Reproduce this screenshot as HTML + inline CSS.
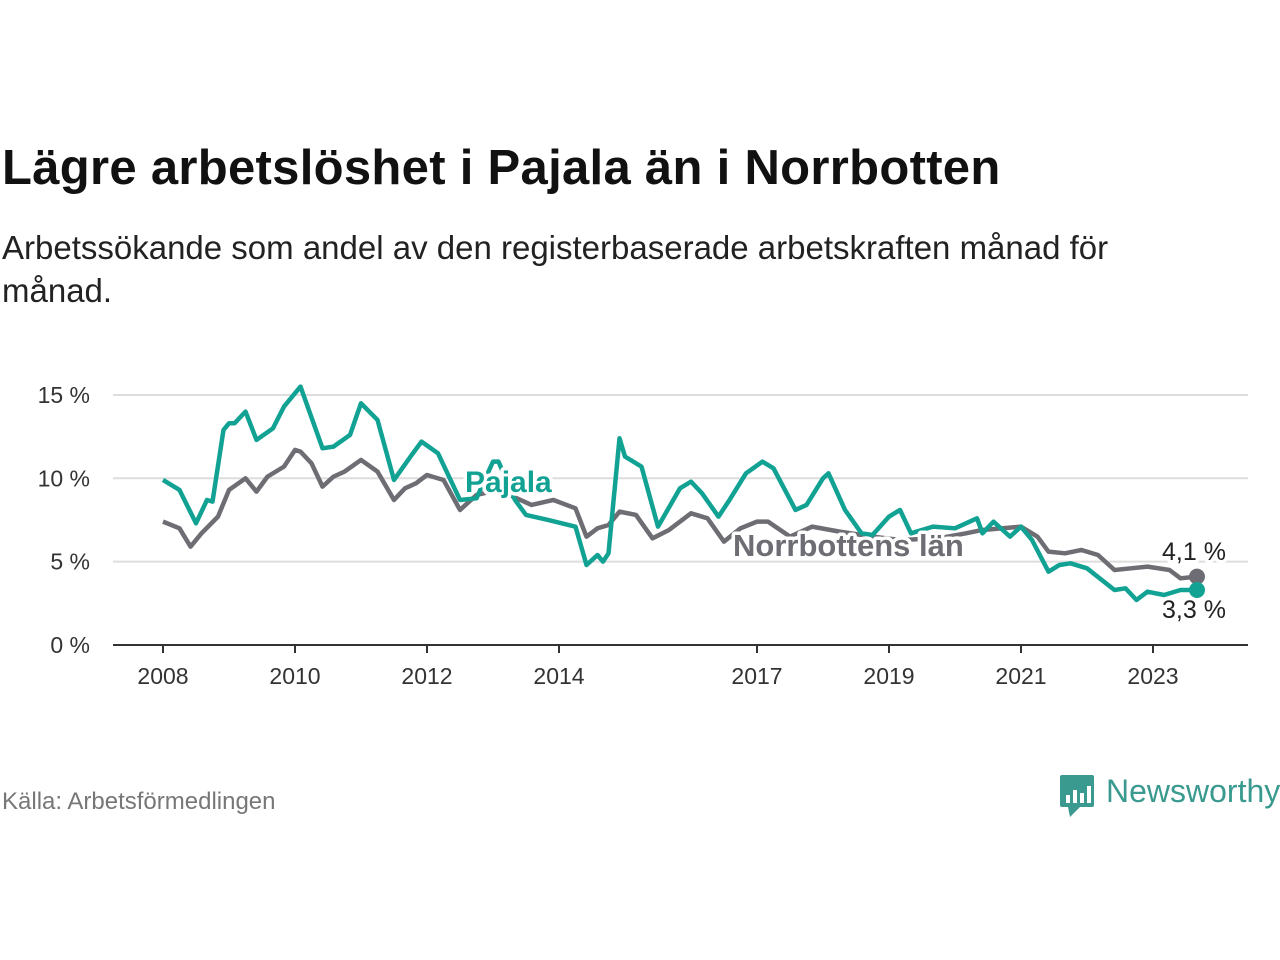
<!DOCTYPE html>
<html><head><meta charset="utf-8"><style>
body{margin:0;width:1280px;height:960px;background:#fff;font-family:"Liberation Sans",sans-serif;overflow:hidden;position:relative}
.t{position:absolute;left:2px;top:140px;font-size:49px;font-weight:bold;color:#111;letter-spacing:0.3px;white-space:nowrap}
.s{position:absolute;left:2px;top:226px;font-size:33px;line-height:43px;color:#222;width:1200px}
.src{position:absolute;left:2px;top:788px;font-size:24px;color:#777}
</style></head><body>
<div class="t">Lägre arbetslöshet i Pajala än i Norrbotten</div>
<div class="s">Arbetssökande som andel av den registerbaserade arbetskraften månad för månad.</div>
<div class="src">Källa: Arbetsförmedlingen</div>
<svg width="1280" height="960" style="position:absolute;left:0;top:0" id="c">
<g>
<rect x="1060" y="775" width="34" height="32" rx="2" fill="#3a9a8f"/>
<polygon points="1068,807 1080,807 1070,817" fill="#3a9a8f"/>
<rect x="1066" y="795" width="4" height="8" fill="#fff"/><rect x="1073" y="790" width="4" height="13" fill="#fff"/><rect x="1080" y="793" width="4" height="10" fill="#fff"/><rect x="1087" y="786" width="4" height="17" fill="#fff"/>
<text x="1106" y="802" font-size="32" fill="#3a9a8f" font-family="Liberation Sans, sans-serif">Newsworthy</text>
</g>
</svg>
<script>
const yTicks=[0,5,10,15];
const yTickLabels=["0 %","5 %","10 %","15 %"];
const xTickYears=[2008,2010,2012,2014,2017,2019,2021,2023];
const pajalaMonths=[0,3,6,8,9,11,12,13,15,17,20,22,25,29,31,34,36,39,42,45,47,50,54,57,60,61,64,66,70,75,77,79,80,81,83,84,87,90,94,96,98,101,103,106,109,111,115,117,120,121,124,127,129,132,134,136,140,144,148,149,151,154,156,158,161,163,165,168,173,175,177,179,182,185,188];
const pajalaValues=[9.9,9.3,7.3,8.7,8.6,12.9,13.3,13.3,14.0,12.3,13.0,14.3,15.5,11.8,11.9,12.6,14.5,13.5,9.9,11.3,12.2,11.5,8.7,8.8,11.0,11.0,8.7,7.8,7.5,7.1,4.8,5.4,5.0,5.5,12.4,11.3,10.7,7.1,9.4,9.8,9.1,7.7,8.7,10.3,11.0,10.6,8.1,8.4,10.0,10.3,8.1,6.7,6.6,7.7,8.1,6.7,7.1,7.0,7.6,6.7,7.4,6.5,7.1,6.3,4.4,4.8,4.9,4.6,3.3,3.4,2.7,3.2,3.0,3.3,3.3];
const norrMonths=[0,3,5,7,10,12,15,17,19,22,24,25,27,29,31,33,36,39,42,44,46,48,51,54,57,61,67,71,75,77,79,81,83,86,89,92,96,99,102,105,108,110,114,118,123,129,134,141,146,149,156,159,161,164,167,170,173,176,179,183,185,188];
const norrValues=[7.4,7.0,5.9,6.7,7.7,9.3,10.0,9.2,10.1,10.7,11.7,11.6,10.9,9.5,10.1,10.4,11.1,10.4,8.7,9.4,9.7,10.2,9.9,8.1,9.0,9.3,8.4,8.7,8.2,6.5,7.0,7.2,8.0,7.8,6.4,6.9,7.9,7.6,6.2,7.0,7.4,7.4,6.5,7.1,6.8,6.5,6.3,6.4,6.7,6.9,7.1,6.5,5.6,5.5,5.7,5.4,4.5,4.6,4.7,4.5,4.0,4.1];
const NS="http://www.w3.org/2000/svg";
const svg=document.getElementById('c');
const X=m=>163+m*5.5, XY=y=>X((y-2008)*12), Y=v=>645-v*16.67;
function el(t,a,p){const e=document.createElementNS(NS,t);for(const k in a)e.setAttribute(k,a[k]);(p||svg).appendChild(e);return e;}
yTicks.forEach((v,i)=>{
 const l=el('line',{x1:113,x2:1248,y1:Y(v),y2:Y(v),stroke:v===0?'#333':'#ddd','stroke-width':2});
 
 
 const t=el('text',{x:90,y:Y(v)+8,'font-size':23,fill:'#333','text-anchor':'end'});t.textContent=yTickLabels[i];
 
 
});
xTickYears.forEach(yr=>{
 const tk=el('line',{x1:XY(yr),x2:XY(yr),y1:645,y2:653,stroke:'#333','stroke-width':2});
 
 
 const t=el('text',{x:XY(yr),y:684,'font-size':23,fill:'#333','text-anchor':'middle'});t.textContent=yr;
 
 
});
function line(ms,vs,col,name){
 const p=el('polyline',{points:ms.map((m,i)=>X(m)+','+Y(vs[i])).join(' '),fill:'none',stroke:col,'stroke-width':4.5,'stroke-linejoin':'round'});
 
 
}
line(norrMonths,norrValues,'#6e6d73','norrbotten-line');
line(pajalaMonths,pajalaValues,'#12a294','pajala-line');
function lab(x,y,txt,col,name,size,bold){
 const t=el('text',{x:x,y:y,'font-size':size,fill:col,'font-weight':bold?'bold':'normal',stroke:'#fff','stroke-width':7,'paint-order':'stroke','stroke-linejoin':'round'});t.textContent=txt;
 
 
}
lab(465,492,'Pajala','#12a294','pajala-label',30,true);
lab(733,556,'Norrbottens län','#6e6d73','norrbotten-label',31,true);
const nl=norrMonths.length-1, pl=pajalaMonths.length-1;
const d1=el('circle',{cx:X(norrMonths[nl]),cy:Y(norrValues[nl]),r:8,fill:'#6e6d73'});


const d2=el('circle',{cx:X(pajalaMonths[pl]),cy:Y(pajalaValues[pl]),r:8,fill:'#12a294'});


lab(1162,560,norrValues[nl].toFixed(1).replace('.',',')+' %','#222','norrbotten-end-value',25,false);
lab(1162,618,'3,3 %','#222','pajala-end-value',25,false);
</script>
</body></html>
